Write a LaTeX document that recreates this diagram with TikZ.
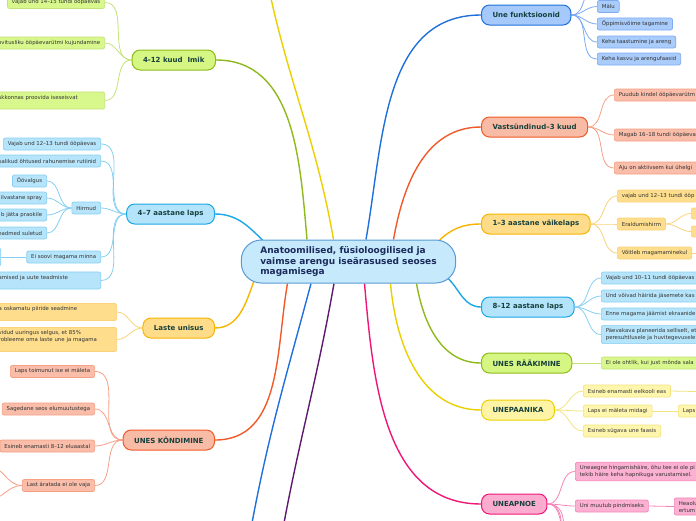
\documentclass[tikz,border=0pt]{standalone}
\usepackage{fontspec}
\setmainfont{DejaVu Sans}
\usetikzlibrary{backgrounds}

\definecolor{hubfill}{HTML}{C6E9FB}
\definecolor{hubline}{HTML}{5A9BD4}
\definecolor{hubtext}{HTML}{1A2B5C}
\definecolor{topictext}{HTML}{17403D}
\definecolor{leaftext}{HTML}{333333}
\definecolor{grnline}{HTML}{8DBA1A}\definecolor{grnfill}{HTML}{D5F682}
\definecolor{grnleaf}{HTML}{D8F88D}\definecolor{grnedge}{HTML}{C3E37A}
\definecolor{bluline}{HTML}{2070DC}\definecolor{blufill}{HTML}{A5C9FA}
\definecolor{bluleaf}{HTML}{A9CCFB}\definecolor{bluedge}{HTML}{7DAAF0}
\definecolor{lblline}{HTML}{1BA7E5}\definecolor{lblfill}{HTML}{B3E4FB}
\definecolor{lblleaf}{HTML}{B6E5FB}\definecolor{lbledge}{HTML}{86CFF2}
\definecolor{salline}{HTML}{F05A28}\definecolor{salfill}{HTML}{F8BBA5}
\definecolor{salleaf}{HTML}{F9BDA9}\definecolor{saledge}{HTML}{F5A084}
\definecolor{oraline}{HTML}{F6B500}\definecolor{orafill}{HTML}{FEDC8A}
\definecolor{oraleaf}{HTML}{FEDD8D}\definecolor{oraedge}{HTML}{FAD27A}
\definecolor{yelline}{HTML}{EBD000}\definecolor{yelfill}{HTML}{FFF4A6}
\definecolor{yelleaf}{HTML}{FFF6AE}\definecolor{yeledge}{HTML}{F2E37E}
\definecolor{pnkline}{HTML}{EE1676}\definecolor{pnkfill}{HTML}{FCADCF}
\definecolor{pnkleaf}{HTML}{FCB1D2}\definecolor{pnkedge}{HTML}{F484B8}
\definecolor{purline}{HTML}{5E1A6E}

\begin{document}
\begin{tikzpicture}[
        x=1pt, y=1pt,
        hub/.style={rectangle, rounded corners=20pt, draw=hubline, fill=hubfill, line width=1pt, minimum width=213pt, minimum height=43pt, inner xsep=19pt, align=left, font=\fontsize{9}{10.4}\selectfont\bfseries, text=hubtext},
        topic/.style={rectangle, rounded corners=8pt, draw=#1line, fill=#1fill, line width=1pt, minimum height=20pt, inner xsep=11pt, font=\fontsize{7}{8}\selectfont\bfseries, text=topictext},
        leaf/.style={rectangle, rounded corners=2pt, draw=#1edge, fill=#1leaf, line width=0.7pt, minimum height=12pt, inner xsep=4.5pt, inner ysep=3pt, font=\fontsize{5.4}{7}\selectfont, text=leaftext},
        lcut/.style={anchor=east, text width=150pt, align=right},
        lblock/.style={anchor=east, text width=#1, align=left},
        rcut/.style={anchor=west, text width=130pt, align=left},
        branch/.style={line width=1.4pt, draw=#1line},
        twig/.style={line width=0.8pt, draw=#1edge}
    ]
        \useasboundingbox (0,0) rectangle (696,-520);
        \clip (0,0) rectangle (696,-520);

        \node[hub] (ctr) at (348.5,-261.5) {Anatoomilised, füsioloogilised ja\\vaimse arengu iseärasused seoses\\magamisega};

        % left topics
        \node[topic=grn, anchor=east] (imik) at (216,-60) {4-12 kuud\ \ Imik};
        \node[topic=lbl, anchor=east] (laps47) at (215,-214) {4--7 aastane laps};
        \node[topic=ora, anchor=east] (unisus) at (215,-328) {Laste unisus};
        \node[topic=sal, anchor=east] (kond) at (215,-440) {UNES KÕNDIMINE};
        % right topics
        \node[topic=blu, anchor=west] (funk) at (481,-15) {Une funktsioonid};
        \node[topic=sal, anchor=west] (vast) at (481,-127) {Vastsündinud--3 kuud};
        \node[topic=ora, anchor=west] (vaike) at (481,-224) {1--3 aastane väikelaps};
        \node[topic=lbl, anchor=west] (laps812) at (481,-307) {8--12 aastane laps};
        \node[topic=grn, anchor=west] (raak) at (481,-363) {UNES RÄÄKIMINE};
        \node[topic=yel, anchor=west] (paan) at (481,-410) {UNEPAANIKA};
        \node[topic=pnk, anchor=west] (apnoe) at (481,-504) {UNEAPNOE};

        % 4-12 kuud
        \node[leaf=grn, anchor=east] (imik1) at (105,-2.5) {vajab und 14--15 tundi ööpäevas};
        \node[leaf=grn, lcut] (imik2) at (105,-43) {ovitusliku ööpäevarütmi kujundamine};
        \node[leaf=grn, lblock=101.5pt] (imik3) at (105,-100.5) {skkonnas proovida iseseisvat\\\mbox{}};

        % 4-7 aastane
        \node[leaf=lbl, anchor=east] (laps1) at (101,-144) {Vajab und 12--13 tundi ööpäevas};
        \node[leaf=lbl, lcut] (laps2) at (101,-161) {salikud õhtused rahunemise rutiinid};
        \node[leaf=lbl, anchor=east] (hirm) at (101,-208) {Hirmud};
        \node[leaf=lbl, anchor=east] (hirm1) at (47,-181) {Öövalgus};
        \node[leaf=lbl, lcut] (hirm2) at (47,-198) {ilvastane spray};
        \node[leaf=lbl, lcut] (hirm3) at (47,-215) {b jätta praokile};
        \node[leaf=lbl, lcut] (hirm4) at (47,-233) {eadmed suletud};
        \node[leaf=lbl, anchor=east] (soovi) at (101,-257) {Ei soovi magama minna};
        \node[leaf=lbl, anchor=east, minimum width=20pt, minimum height=18pt] (soovi1) at (1,-257) {};
        \node[leaf=lbl, lblock=97.5pt] (laps3) at (101,-280.5) {amised ja uute teadmiste\\\mbox{}};

        % Laste unisus
        \node[leaf=ora, lblock=113.5pt] (uni1) at (117,-312) {a oskamatu piiride seadmine\\\mbox{}};
        \node[leaf=ora, lblock=113.5pt] (uni2) at (117,-339.5) {vidud uuringus selgus, et 85\%\\robleeme oma laste une ja magama\\\mbox{}};

        % UNES KONDIMINE
        \node[leaf=sal, anchor=east] (kond1) at (95,-371.5) {Laps toimunut ise ei mäleta};
        \node[leaf=sal, anchor=east] (kond2) at (95,-409) {Sagedane seos elumuutustega};
        \node[leaf=sal, anchor=east] (kond3) at (95,-446) {Esineb enamasti 8--12 eluaastal};
        \node[leaf=sal, anchor=east] (kond4) at (95,-485.5) {Last äratada ei ole vaja};
        \coordinate (kond4a) at (-12,-466);
        \coordinate (kond4b) at (-12,-500);

        % Une funktsioonid
        \coordinate (funk0) at (597,15);
        \node[leaf=blu, anchor=west] (funk1) at (597,-6.5) {Mälu};
        \node[leaf=blu, anchor=west] (funk2) at (597,-24) {Õppimisvõime tagamine};
        \node[leaf=blu, anchor=west] (funk3) at (597,-42) {Keha taastumine ja areng};
        \node[leaf=blu, anchor=west] (funk4) at (597,-59) {Keha kasvu ja arengufaasid};

        % Vastsundinud
        \node[leaf=sal, rcut] (vast1) at (614,-95) {Puudub kindel ööpäevarütm};
        \node[leaf=sal, rcut] (vast2) at (614,-135) {Magab 16--18 tundi ööpäeva};
        \node[leaf=sal, rcut] (vast3) at (614,-168) {Aju on aktiivsem kui ühelgi};

        % 1-3 aastane
        \node[leaf=ora, rcut] (vaike1) at (617,-196) {vajab und 12--13 tundi ööp};
        \node[leaf=ora, anchor=west] (vaike2) at (617,-224) {Eraldumishirm};
        \node[leaf=ora, anchor=west, minimum width=20pt, minimum height=11pt] (era1) at (691,-213.5) {};
        \node[leaf=ora, anchor=west, minimum width=20pt, minimum height=11pt] (era2) at (691,-231.5) {};
        \node[leaf=ora, anchor=west] (vaike3) at (617,-253) {Võitleb magamaminekul};
        \coordinate (voit1) at (720,-253);

        % 8-12 aastane
        \node[leaf=lbl, rcut] (kool1) at (601,-278) {Vajab und 10--11 tundi ööpäevas};
        \node[leaf=lbl, rcut] (kool2) at (601,-296) {Und võivad häirida jäsemete kas};
        \node[leaf=lbl, rcut] (kool3) at (601,-314) {Enne magama jäämist ekraanide};
        \node[leaf=lbl, rcut] (kool4) at (601,-334.5) {Päevakava planeerida selliselt, et\\peresuhtlusele ja huvitegevusele};

        % UNES RAAKIMINE
        \node[leaf=grn, rcut] (raak1) at (601,-363) {Ei ole ohtlik, kui just mõnda sala};

        % UNEPAANIKA
        \node[leaf=yel, anchor=west] (paan1) at (583,-391) {Esineb enamasti eelkooli eas};
        \coordinate (paan1a) at (720,-392);
        \node[leaf=yel, anchor=west] (paan2) at (583,-411) {Laps ei mäleta midagi};
        \node[leaf=yel, rcut] (paan2a) at (678,-411) {Laps};
        \node[leaf=yel, anchor=west] (paan3) at (583,-431) {Esineb sügava une faasis};

        % UNEAPNOE
        \node[leaf=pnk, rcut] (apn1) at (575,-471.5) {Uneaegne hingamishäire, õhu tee ei ole pi\\tekib häire keha hapnikuga varustamisel.};
        \node[leaf=pnk, anchor=west] (apn2) at (575,-506) {Uni muutub pindmiseks};
        \node[leaf=pnk, rcut] (apn2a) at (674,-506.5) {Heaolu\\ertum};
        \coordinate (apn3) at (575,-545);
        \coordinate (apn4) at (575,-575);
        \coordinate (apn5) at (575,-605);

        % off-canvas branches
        \coordinate (topend) at (268,15);
        \coordinate (botblue) at (248,-545);
        \coordinate (botpur) at (280,-545);

        \begin{scope}[on background layer]
            % main branches
            \draw[branch=yel] ([xshift=-15pt]ctr.north) to[out=100,in=-78] (topend);
            \draw[branch=grn] ([xshift=-41.5pt]ctr.north) to[out=95,in=0] (imik.east);
            \draw[branch=lbl] ([xshift=24pt,yshift=-3pt]ctr.north west) to[out=135,in=0] (laps47.east);
            \draw[branch=ora] ([xshift=13pt,yshift=2pt]ctr.south west) to[out=-110,in=0] (unisus.east);
            \draw[branch=sal] ([xshift=-61pt]ctr.south) to[out=-100,in=0] (kond.east);
            \draw[branch=blu] ([xshift=-37.5pt]ctr.south) to[out=-105,in=80] (botblue);
            \draw[branch=pur] ([xshift=-14.5pt]ctr.south) to[out=-100,in=80] (botpur);
            \draw[branch=pnk] ([xshift=16pt]ctr.south) to[out=-85,in=180] (apnoe.west);
            \draw[branch=yel] ([xshift=42pt]ctr.south) to[out=-85,in=180] (paan.west);
            \draw[branch=grn] ([xshift=68pt]ctr.south) to[out=-80,in=180] (raak.west);
            \draw[branch=lbl] ([xshift=-8pt,yshift=5pt]ctr.south east) to[out=-45,in=180] (laps812.west);
            \draw[branch=blu] ([xshift=17.5pt]ctr.north) to[out=80,in=180] (funk.west);
            \draw[branch=sal] ([xshift=45pt]ctr.north) to[out=80,in=180] (vast.west);
            \draw[branch=ora] ([xshift=-18pt,yshift=-2pt]ctr.north east) to[out=45,in=180] (vaike.west);

            % left twigs
            \draw[twig=grn] (imik.west) to[out=180,in=0] (imik1.east);
            \draw[twig=grn] (imik.west) to[out=180,in=0] (imik2.east);
            \draw[twig=grn] (imik.west) to[out=180,in=0] (imik3.east);
            \draw[twig=lbl] (laps47.west) to[out=180,in=0] (laps1.east);
            \draw[twig=lbl] (laps47.west) to[out=180,in=0] (laps2.east);
            \draw[twig=lbl] (laps47.west) to[out=180,in=0] (hirm.east);
            \draw[twig=lbl] (laps47.west) to[out=180,in=0] (soovi.east);
            \draw[twig=lbl] (laps47.west) to[out=180,in=0] (laps3.east);
            \draw[twig=lbl] (hirm.west) to[out=180,in=0] (hirm1.east);
            \draw[twig=lbl] (hirm.west) to[out=180,in=0] (hirm2.east);
            \draw[twig=lbl] (hirm.west) to[out=180,in=0] (hirm3.east);
            \draw[twig=lbl] (hirm.west) to[out=180,in=0] (hirm4.east);
            \draw[twig=lbl] (soovi.west) -- (soovi1.east);
            \draw[twig=ora] (unisus.west) to[out=180,in=0] (uni1.east);
            \draw[twig=ora] (unisus.west) to[out=180,in=0] (uni2.east);
            \draw[twig=sal] (kond.west) to[out=180,in=0] (kond1.east);
            \draw[twig=sal] (kond.west) to[out=180,in=0] (kond2.east);
            \draw[twig=sal] (kond.west) to[out=180,in=0] (kond3.east);
            \draw[twig=sal] (kond.west) to[out=180,in=0] (kond4.east);
            \draw[twig=sal] (kond4.west) to[out=180,in=0] (kond4a);
            \draw[twig=sal] (kond4.west) to[out=180,in=0] (kond4b);

            % right twigs
            \draw[twig=blu] (funk.east) to[out=0,in=180] (funk0);
            \draw[twig=blu] (funk.east) to[out=0,in=180] (funk1.west);
            \draw[twig=blu] (funk.east) to[out=0,in=180] (funk2.west);
            \draw[twig=blu] (funk.east) to[out=0,in=180] (funk3.west);
            \draw[twig=blu] (funk.east) to[out=0,in=180] (funk4.west);
            \draw[twig=sal] (vast.east) to[out=0,in=180] (vast1.west);
            \draw[twig=sal] (vast.east) to[out=0,in=180] (vast2.west);
            \draw[twig=sal] (vast.east) to[out=0,in=180] (vast3.west);
            \draw[twig=ora] (vaike.east) to[out=0,in=180] (vaike1.west);
            \draw[twig=ora] (vaike.east) to[out=0,in=180] (vaike2.west);
            \draw[twig=ora] (vaike.east) to[out=0,in=180] (vaike3.west);
            \draw[twig=ora] (vaike2.east) to[out=0,in=180] (era1.west);
            \draw[twig=ora] (vaike2.east) to[out=0,in=180] (era2.west);
            \draw[twig=ora] (vaike3.east) -- (voit1);
            \draw[twig=lbl] (laps812.east) to[out=0,in=180] (kool1.west);
            \draw[twig=lbl] (laps812.east) to[out=0,in=180] (kool2.west);
            \draw[twig=lbl] (laps812.east) to[out=0,in=180] (kool3.west);
            \draw[twig=lbl] (laps812.east) to[out=0,in=180] (kool4.west);
            \draw[twig=grn] (raak.east) -- (raak1.west);
            \draw[twig=yel] (paan.east) to[out=0,in=180] (paan1.west);
            \draw[twig=yel] (paan.east) to[out=0,in=180] (paan2.west);
            \draw[twig=yel] (paan.east) to[out=0,in=180] (paan3.west);
            \draw[twig=yel] (paan1.east) -- (paan1a);
            \draw[twig=yel] (paan2.east) -- (paan2a.west);
            \draw[twig=pnk] (apnoe.east) to[out=0,in=180] (apn1.west);
            \draw[twig=pnk] (apnoe.east) to[out=0,in=180] (apn2.west);
            \draw[twig=pnk] (apn2.east) -- (apn2a.west);
            \draw[twig=pnk] (apnoe.east) to[out=0,in=180] (apn3);
            \draw[twig=pnk] (apnoe.east) to[out=0,in=180] (apn4);
            \draw[twig=pnk] (apnoe.east) to[out=0,in=180] (apn5);
        \end{scope}
    \end{tikzpicture}
\end{document}
